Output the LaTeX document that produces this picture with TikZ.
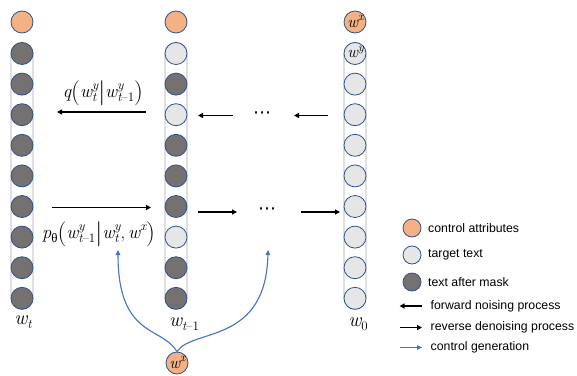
\documentclass[tikz,border=0pt]{standalone}
\usepackage{fontspec}
\newfontfamily\legfont{Liberation Sans}
\newfontfamily\grk{Liberation Serif}
\newfontfamily\dvs{DejaVu Sans}
\usetikzlibrary{arrows.meta}
\definecolor{orangec}{HTML}{F4B183}
\definecolor{darkc}{HTML}{767171}
\definecolor{lightc}{HTML}{E7E6E6}
\definecolor{edgec}{HTML}{2F528F}
\definecolor{bluec}{HTML}{4472C4}
\definecolor{colc}{HTML}{A6A6A6}
\newcommand\mfont{\itshape\fontsize{18.5}{20}\selectfont}
\newcommand\wfont{\itshape\fontsize{20}{22}\selectfont}
\newcommand\cfont{\itshape\fontsize{16.5}{18}\selectfont}
\newcommand\bigp[1]{{\upshape\fontsize{25}{25}\selectfont\raisebox{-2pt}{#1}}}
\newcommand\supsubx[2]{{\fontsize{13}{13}\selectfont\setbox0=\hbox{#1}\setbox2=\hbox{#2}\ifdim\wd0>\wd2 \wd2=\wd0\fi\rlap{\raise7.5pt\box0}\lower4pt\box2}}
\newcommand\supx[1]{{\fontsize{13}{13}\selectfont\raise7.5pt\hbox{#1}}}
\newcommand\subx[1]{{\fontsize{13}{13}\selectfont\lower4pt\hbox{#1}}}
\newcommand\supc[1]{{\fontsize{12}{12}\selectfont\raise6.5pt\hbox{#1}}}
\begin{document}
\begin{tikzpicture}[x=1pt,y=-1pt,
  tok/.style={circle,minimum size=22pt,inner sep=0pt,line width=0.8pt,draw=edgec},
  legtok/.style={circle,minimum size=18pt,inner sep=0pt,line width=0.8pt,draw=edgec},
  colbox/.style={draw=colc,line width=0.8pt,rounded corners=11pt},
  blk/.style={line width=1.5pt,-{Triangle[length=5pt,width=5pt]}},
  blu/.style={line width=1.1pt,draw=bluec,-{Triangle[length=5pt,width=4.5pt]},color=bluec},
  mlab/.style={inner sep=0pt,font=\mfont},
  wlab/.style={inner sep=0pt,font=\wfont},
  clab/.style={inner sep=0pt,font=\cfont},
  dots/.style={inner sep=0pt,font=\dvs\fontsize{18}{18}\selectfont},
  legtxt/.style={anchor=west,inner sep=0pt,font=\legfont\fontsize{12.3}{14}\selectfont}]
\useasboundingbox (0,0) rectangle (577,375);
% column boxes
\foreach \x in {22,176,355}
  \draw[colbox] (\x-11,42.5) rectangle (\x+11,309.3);
% column 1
\node[tok,fill=orangec] (a0) at (22,22) {};
\foreach \i in {1,...,9}
  \node[tok,fill=darkc] (a\i) at (22,{53.5+(\i-1)*30.6}) {};
% column 2
\node[tok,fill=orangec] (b0) at (176,22) {};
\foreach \i/\f in {1/lightc,2/darkc,3/lightc,4/darkc,5/darkc,6/darkc,7/lightc,8/darkc,9/darkc}
  \node[tok,fill=\f] (b\i) at (176,{53.5+(\i-1)*30.6}) {};
% column 3
\node[tok,fill=orangec] (c0) at (355,22) {};
\foreach \i in {1,...,9}
  \node[tok,fill=lightc] (c\i) at (355,{53.5+(\i-1)*30.6}) {};
\node[clab] (c0t) at ([xshift=0.5pt,yshift=0.5pt]c0) {w\supc{x}};
\node[clab] (c1t) at ([xshift=0.5pt,yshift=1.5pt]c1) {w\supc{y}};
% column labels
\node[wlab] (lt) at (23,322) {w\subx{t}};
\node[wlab] (lt1) at (184,324) {w\subx{t{\upshape –1}}};
\node[wlab] (l0) at (358,324) {w\subx{\upshape 0}};
% forward arrows (top)
\coordinate (q1) at (145.5,112);
\coordinate (q2) at (57,112);
\draw[blk] (q1) -- (q2);
\node[mlab] (qlab) at (103,93) {q\bigp(w\supsubx{y}{t}\bigp|w\supsubx{y}{t{\upshape –1}}\bigp)};
\coordinate (f1) at (232.5,115.5);
\coordinate (f2) at (198,115.5);
\draw[blk] (f1) -- (f2);
\node[dots] (fdots) at (262,115) {⋯};
\coordinate (f3) at (328,115.5);
\coordinate (f4) at (294,115.5);
\draw[blk] (f3) -- (f4);
% reverse arrows (bottom)
\coordinate (p1) at (52,207.5);
\coordinate (p2) at (151,207.5);
\draw[blk] (p1) -- (p2);
\node[mlab] (plab) at (98.5,234) {p\subx{\grk\upshape θ}\bigp(w\supsubx{y}{t{\upshape –1}}\bigp|w\supsubx{y}{t}{\upshape ,\,}w\supx{x}\bigp)};
\coordinate (r1) at (198,212);
\coordinate (r2) at (237,212);
\draw[blk] (r1) -- (r2);
\node[dots] (rdots) at (267,211.5) {⋯};
\coordinate (r3) at (301,212);
\coordinate (r4) at (340,212);
\draw[blk] (r3) -- (r4);
% control node
\node[tok,fill=orangec] (wx) at (177,363) {};
\node[clab] (wxt) at ([xshift=0.5pt,yshift=0.5pt]wx) {w\supc{x}};
\coordinate (t1) at (118,250);
\coordinate (t2) at (268,250);
\draw[blu] (wx.north) .. controls (162,326) and (118,338) .. (t1);
\draw[blu] (wx.north) .. controls (192,328) and (266,345) .. (t2);
% legend
\node[legtok,fill=orangec] (k1) at (412,228) {};
\node[legtok,fill=lightc] (k2) at (412,255) {};
\node[legtok,fill=darkc] (k3) at (412,282) {};
\node[legtxt] (k1t) at (428,228) {control attributes};
\node[legtxt] (k2t) at (428,255) {target text};
\node[legtxt] (k3t) at (428,282) {text after mask};
\coordinate (m1) at (421.5,306);
\coordinate (m2) at (399.5,306);
\draw[blk,line width=1.3pt] (m1) -- (m2);
\coordinate (n1) at (400,327.5);
\coordinate (n2) at (422,327.5);
\draw[blk,line width=1.3pt] (n1) -- (n2);
\coordinate (o1) at (400,347.5);
\coordinate (o2) at (422,347.5);
\draw[blu] (o1) -- (o2);
\node[legtxt] (m1t) at (430.5,306) {forward noising process};
\node[legtxt] (n1t) at (430.5,327.5) {reverse denoising process};
\node[legtxt] (o1t) at (430.5,347.5) {control generation};
\end{tikzpicture}
\end{document}
